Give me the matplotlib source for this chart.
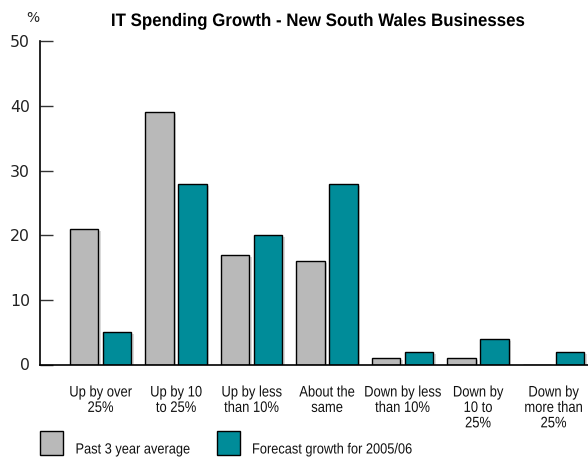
import matplotlib
matplotlib.use("Agg")
import matplotlib.pyplot as plt
from matplotlib.patches import Rectangle
from matplotlib.transforms import Affine2D
import matplotlib.patheffects as pe
import numpy as np

categories = ["Up by over\n25%", "Up by 10\nto 25%", "Up by less\nthan 10%",
              "About the\nsame", "Down by less\nthan 10%", "Down by\n10 to\n25%",
              "Down by\nmore than\n25%"]
past_avg = [21, 39, 17, 16, 1, 1, 0]
forecast = [5, 28, 20, 28, 2, 4, 2]
series_names = ["Past 3 year average", "Forecast growth for 2005/06"]
title = "IT Spending Growth - New South Wales Businesses"
yticks = [0, 10, 20, 30, 40, 50]

GREY = "#b9b9b9"
TEAL = "#008c99"
SANS = "Liberation Sans"

W, H = 588, 457
DPI = 100
fig = plt.figure(figsize=(W / DPI, H / DPI), dpi=DPI)


def fx(px):
    return px / W


def fy(py):
    return 1 - py / H


class Squeeze(pe.AbstractPathEffect):
    """Narrow the glyphs horizontally around a fixed x position (pixels)."""

    def __init__(self, sx, cx):
        super().__init__()
        self.sx, self.cx = sx, cx

    def draw_path(self, renderer, gc, tpath, affine, rgbFace=None):
        t = affine + Affine2D().translate(-self.cx, 0).scale(self.sx, 1).translate(self.cx, 0)
        renderer.draw_path(gc, tpath, t, rgbFace)


def narrow_text(xp, yp, s, sx, **kw):
    return fig.text(fx(xp), fy(yp), s, path_effects=[Squeeze(sx, xp * DPI / 100)], **kw)


ax_left, ax_right, ax_top, ax_bot = 39.5, 600, 41.3, 364.5
ax = fig.add_axes([fx(ax_left), fy(ax_bot), fx(ax_right - ax_left), (ax_bot - ax_top) / H])
ax.set_ylim(0, 50)

x = np.arange(len(categories))
group_px = 75.5
first_center_px = 100.5
x0 = -(first_center_px - ax_left) / group_px
x1 = x0 + (ax_right - ax_left) / group_px
ax.set_xlim(x0, x1)

bw = 28.3 / group_px
off = 16.5 / group_px
shadow = [pe.SimplePatchShadow(offset=(2, -1.5), shadow_rgbFace="0.85", alpha=1.0), pe.Normal()]
for vals, col, sgn in ((past_avg, GREY, -1), (forecast, TEAL, 1)):
    bars = ax.bar(x + sgn * off, vals, width=bw, color=col, edgecolor="black",
                  linewidth=1.0, zorder=2)
    for b in bars:
        b.set_path_effects(shadow)

for s in ("top", "right"):
    ax.spines[s].set_visible(False)
for s in ("left", "bottom"):
    ax.spines[s].set_linewidth(1.2)
    ax.spines[s].set_color("black")
    ax.spines[s].set_zorder(3)

ax.set_yticks(yticks)
ax.set_yticklabels([str(v) for v in yticks], fontsize=11.3, family="DejaVu Sans", color="#222222")
ax.tick_params(axis="y", direction="in", length=9.5, width=1.0, color="#333333", pad=7)
ax.set_xticks([])

# category labels under each pair of bars
for i, lab in enumerate(categories):
    xp = first_center_px + i * group_px
    narrow_text(xp, 385.5, lab, 0.85, ha="center", va="top", multialignment="center",
                fontsize=11, family=SANS, color="#111111", linespacing=1.13)

# title and unit label
narrow_text(317.5, 26, title, 0.935, ha="center", va="baseline", fontsize=13,
            fontweight="bold", family=SANS, color="black")
fig.text(fx(33), fy(22), "%", ha="center", va="baseline", fontsize=10,
         family="DejaVu Sans", color="#222222")

# legend
for (bx, tx, col, name) in ((39.5, 75.5, GREY, series_names[0]),
                            (216.5, 252, TEAL, series_names[1])):
    fig.patches.append(Rectangle((fx(bx), fy(454.5)), fx(23), 23.5 / H,
                                 transform=fig.transFigure, facecolor=col,
                                 edgecolor="black", linewidth=1.0))
    narrow_text(tx, 453.5, name, 0.87, ha="left", va="baseline", fontsize=10.6,
                family=SANS, color="#111111")

fig.savefig("out.png", dpi=DPI)
